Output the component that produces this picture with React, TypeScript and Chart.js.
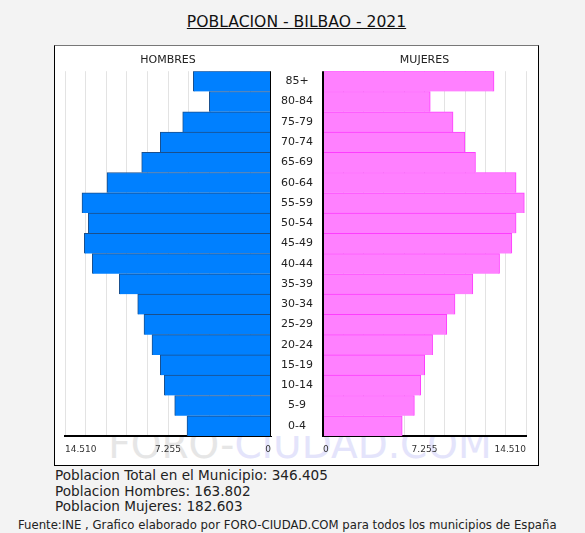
import React, { useEffect, useRef } from 'react';
import { Chart, registerables } from 'chart.js';

Chart.register(...registerables);

const ageGroups = ['85+', '80-84', '75-79', '70-74', '65-69', '60-64', '55-59', '50-54', '45-49', '40-44', '35-39', '30-34', '25-29', '20-24', '15-19', '10-14', '5-9', '0-4'];
const hombres = [5473, 4346, 6220, 7797, 9108, 11552, 13313, 12869, 13151, 12587, 10685, 9389, 8946, 8382, 7797, 7516, 6783, 5917];
const mujeres = [12224, 7666, 9294, 10143, 10900, 13802, 14390, 13802, 13498, 12620, 10709, 9435, 8848, 7835, 7269, 6986, 6533, 5662];
const axisMax = 14510;
const gridStep = 1451;
const labeledTicks = [0, 7255, 14510];
const chartTitle = 'POBLACION - BILBAO - 2021';
const sideTitles = ['HOMBRES', 'MUJERES'];
const summaryLines = ['Poblacion Total en el Municipio: 346.405', 'Poblacion Hombres: 163.802', 'Poblacion Mujeres: 182.603'];
const sourceText = 'Fuente:INE , Grafico elaborado por FORO-CIUDAD.COM para todos los municipios de España';
const watermarkParts = ['FORO-', 'CIUDAD.COM'];

const FONT = '"DejaVu Sans", Verdana, sans-serif';

const fmt = (v: number) => String(Math.round(v)).replace(/\B(?=(\d{3})+(?!\d))/g, '.');

const whiteBg = {
  id: 'whiteBg',
  beforeDraw(chart: any) {
    const { ctx, chartArea, width } = chart;
    ctx.save();
    ctx.fillStyle = '#ffffff';
    ctx.fillRect(0, 0, width, chartArea.bottom);
    ctx.restore();
  },
};

const zeroLine = {
  id: 'zeroLine',
  afterDatasetsDraw(chart: any) {
    const { ctx, chartArea } = chart;
    const x = chart.scales.x.getPixelForValue(0);
    ctx.save();
    ctx.strokeStyle = '#000';
    ctx.lineWidth = 2;
    ctx.beginPath();
    ctx.moveTo(x, chartArea.top);
    ctx.lineTo(x, chartArea.bottom);
    ctx.stroke();
    ctx.restore();
  },
};

function xScale(reverse: boolean) {
  return {
    type: 'linear',
    min: 0,
    max: axisMax,
    reverse,
    afterBuildTicks: (s: any) => {
      const t: any[] = [];
      for (let v = 0; v <= axisMax; v += gridStep) t.push({ value: v });
      s.ticks = t;
    },
    afterFit: (s: any) => {
      s.height = 24;
    },
    grid: { color: '#e3e3e3', lineWidth: 1, drawTicks: false },
    border: { display: true, color: '#000', width: 2 },
    ticks: {
      autoSkip: false,
      maxRotation: 0,
      align: 'inner',
      padding: 8,
      color: '#333',
      font: { size: 9, family: FONT },
      callback: (v: any) => (labeledTicks.includes(Number(v)) ? fmt(Number(v)) : ''),
    },
  };
}

export default function App() {
  const leftRef = useRef<HTMLCanvasElement>(null);
  const rightRef = useRef<HTMLCanvasElement>(null);

  useEffect(() => {
    Chart.defaults.font.family = FONT;
    const left = new Chart(leftRef.current as HTMLCanvasElement, {
      type: 'bar',
      data: {
        labels: ageGroups,
        datasets: [
          {
            data: hombres,
            backgroundColor: '#0080ff',
            borderColor: '#1a4f8c',
            borderWidth: { top: 1, left: 1, right: 1, bottom: 0 },
            borderSkipped: 'start',
            barPercentage: 1,
            categoryPercentage: 1,
          },
        ],
      },
      options: {
        indexAxis: 'y',
        animation: false,
        responsive: false,
        maintainAspectRatio: false,
        layout: { padding: { left: 10, right: 4, top: 0, bottom: 0 } },
        plugins: {
          legend: { display: false },
          tooltip: { enabled: false },
          title: {
            display: true,
            text: sideTitles[0],
            fullSize: false,
            color: '#222',
            font: { size: 11, weight: 'normal', family: FONT },
            padding: { top: 5, bottom: 4 },
          },
        },
        scales: {
          x: xScale(true) as any,
          y: { display: false },
        },
      } as any,
      plugins: [whiteBg, zeroLine],
    });

    const right = new Chart(rightRef.current as HTMLCanvasElement, {
      type: 'bar',
      data: {
        labels: ageGroups,
        datasets: [
          {
            data: mujeres,
            backgroundColor: '#ff80ff',
            borderColor: '#ff3cff',
            borderWidth: { top: 1, left: 1, right: 1, bottom: 0 },
            borderSkipped: 'start',
            barPercentage: 1,
            categoryPercentage: 1,
          },
        ],
      },
      options: {
        indexAxis: 'y',
        animation: false,
        responsive: false,
        maintainAspectRatio: false,
        layout: { padding: { left: 0, right: 6, top: 0, bottom: 0 } },
        plugins: {
          legend: { display: false },
          tooltip: { enabled: false },
          title: {
            display: true,
            text: sideTitles[1],
            fullSize: false,
            color: '#222',
            font: { size: 11, weight: 'normal', family: FONT },
            padding: { top: 5, bottom: 4 },
          },
        },
        scales: {
          x: xScale(false) as any,
          y: {
            position: 'left',
            afterFit: (s: any) => {
              s.width = 52;
            },
            grid: { display: false, drawTicks: false },
            border: { display: false },
            ticks: {
              autoSkip: false,
              crossAlign: 'center',
              padding: 10,
              color: '#222',
              font: { size: 11, family: FONT },
            },
          },
        },
      } as any,
      plugins: [whiteBg, zeroLine],
    });

    return () => {
      left.destroy();
      right.destroy();
    };
  }, []);

  return (
    <div
      style={{
        position: 'absolute',
        left: 0,
        top: 0,
        width: 585,
        height: 533,
        background: '#f3f3f3',
        fontFamily: FONT,
        overflow: 'hidden',
      }}
    >
      <div
        style={{
          position: 'absolute',
          left: 54,
          top: 12,
          width: 485,
          textAlign: 'center',
          fontSize: 15.6,
          lineHeight: '20px',
          color: '#111',
          textDecoration: 'underline',
        }}
      >
        {chartTitle}
      </div>
      <div
        style={{
          position: 'absolute',
          left: 54,
          top: 45,
          width: 485,
          height: 421,
          boxSizing: 'border-box',
          background: '#fff',
          border: '1px solid #000',
          borderTopColor: '#777',
        }}
      />
      <div
        style={{
          position: 'absolute',
          left: 100,
          top: 425,
          width: 400,
          textAlign: 'center',
          fontSize: 39,
          lineHeight: '39px',
          whiteSpace: 'nowrap',
        }}
      >
        <span style={{ color: '#e6e6e6' }}>{watermarkParts[0]}</span>
        <span style={{ color: '#e4e4fb' }}>{watermarkParts[1]}</span>
      </div>
      <canvas
        ref={leftRef}
        width={220}
        height={411}
        style={{ position: 'absolute', left: 55, top: 49, width: 220, height: 411 }}
      />
      <canvas
        ref={rightRef}
        width={263}
        height={411}
        style={{ position: 'absolute', left: 271, top: 49, width: 263, height: 411 }}
      />
      <div
        style={{
          position: 'absolute',
          left: 55,
          top: 468,
          fontSize: 13.6,
          lineHeight: '15.5px',
          color: '#222',
          whiteSpace: 'nowrap',
        }}
      >
        {summaryLines.map((l, i) => (
          <div key={i}>{l}</div>
        ))}
      </div>
      <div
        style={{
          position: 'absolute',
          left: 18,
          top: 518,
          fontSize: 11.7,
          lineHeight: '14px',
          color: '#222',
          whiteSpace: 'nowrap',
        }}
      >
        {sourceText}
      </div>
    </div>
  );
}
